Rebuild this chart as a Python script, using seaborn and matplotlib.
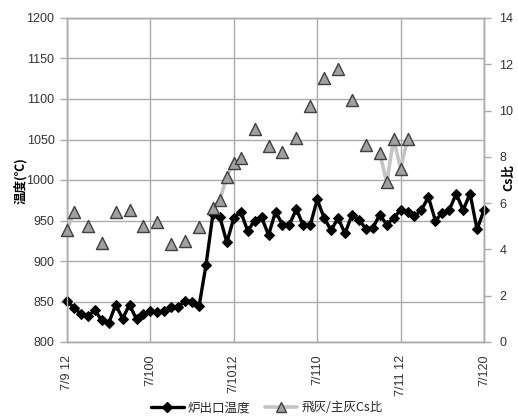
import numpy as np
import pandas as pd
import matplotlib
matplotlib.use("Agg")
import matplotlib.pyplot as plt
from matplotlib.lines import Line2D
import seaborn as sns

# Hourly readings from 7/9 12:00 to 7/12 0:00
hours = list(range(61))
furnace_temp = [851, 842, 835, 832, 839, 827, 823, 846, 829, 846,
                828, 835, 838, 837, 838, 843, 843, 851, 850, 844,
                895, 958, 954, 923, 953, 961, 937, 950, 954, 932,
                961, 945, 945, 964, 944, 944, 976, 953, 938, 953,
                934, 957, 951, 940, 941, 957, 945, 953, 963, 961,
                955, 963, 979, 950, 959, 963, 983, 963, 983, 939,
                963]
# Fly ash / bottom ash Cs ratio, sampled at irregular hours
cs_hours = [0, 1, 3, 5, 7, 9, 11, 13, 15, 17, 19, 21, 22, 23, 24, 25,
            27, 29, 31, 33, 35, 37, 39, 41, 43, 45, 46, 47, 48, 49]
cs_ratio = [4.85, 5.60, 5.03, 4.28, 5.63, 5.72, 5.03, 5.20, 4.23, 4.38,
            4.96, 5.80, 6.15, 7.15, 7.75, 7.93, 9.19, 8.47, 8.20, 8.80,
            10.20, 11.39, 11.79, 10.45, 8.52, 8.15, 6.90, 8.76, 7.49, 8.76]
tick_hours = [0, 12, 24, 36, 48, 60]
tick_labels = ["7/9 12", "7/100", "7/1012", "7/110", "7/11 12", "7/120"]
temp_ticks = [800, 850, 900, 950, 1000, 1050, 1100, 1150, 1200]
cs_ticks = [0, 2, 4, 6, 8, 10, 12, 14]

sns.set_style("white")
plt.rcParams["font.family"] = ["Noto Sans CJK JP", "DejaVu Sans"]

temp_df = pd.DataFrame({"hour": hours, "temp": furnace_temp})
cs_df = pd.DataFrame({"hour": cs_hours, "cs": cs_ratio})
# consecutive hourly samples are joined, gaps break the line
cs_df["seg"] = (cs_df["hour"].diff() != 1).cumsum()

fig = plt.figure(figsize=(5.18, 4.17), dpi=100)
ax = fig.add_axes([67 / 518, 75 / 417, 417 / 518, 324 / 417])
ax2 = ax.twinx()

grid_c = "#ABABAB"
txt_c = "#333333"

sns.lineplot(data=temp_df, x="hour", y="temp", ax=ax, color="black",
             lw=2.4, marker="D", markersize=5, markeredgecolor="black",
             clip_on=False, zorder=3)

sns.lineplot(data=cs_df, x="hour", y="cs", units="seg", estimator=None,
             ax=ax2, color="#C4C4C4", lw=2.6, zorder=2)
sns.scatterplot(data=cs_df, x="hour", y="cs", ax=ax2, marker="^", s=75,
                color="#A0A0A0", edgecolor="#404040", linewidth=1.0,
                zorder=3, clip_on=False)

ax.set_xlim(0, 60)
ax.set_ylim(800, 1200)
ax2.set_ylim(0, 14)
ax.set_yticks(temp_ticks)
ax2.set_yticks(cs_ticks)
ax.set_xticks(tick_hours)
ax.set_xticklabels(tick_labels, rotation=90, fontsize=9, color=txt_c,
                   family=["Liberation Sans", "DejaVu Sans"])
ax.set_yticklabels([str(v) for v in temp_ticks], fontsize=9, color=txt_c,
                   family=["Liberation Sans", "DejaVu Sans"])
ax2.set_yticklabels([str(v) for v in cs_ticks], fontsize=9, color=txt_c,
                    family=["Liberation Sans", "DejaVu Sans"])

ax.grid(True, color=grid_c, lw=1)
ax.set_axisbelow(True)
for a in (ax, ax2):
    for side, sp in a.spines.items():
        sp.set_color(grid_c)
        sp.set_linewidth(1)
    a.set_xlabel("")
    a.set_ylabel("")
ax.tick_params(axis="both", direction="out", length=5, width=1,
               color=grid_c, pad=4)
ax2.tick_params(axis="y", direction="out", length=5, width=1,
                color=grid_c, pad=6)

fig.text(20 / 518, 0.568, "温度(℃)", rotation=90, ha="center", va="center",
         fontsize=9, fontweight="bold", color="black")
fig.text(509 / 518, 0.575, "Cs比", rotation=90, ha="center", va="center",
         fontsize=9, fontweight="bold", color="black")

handles = [
    Line2D([], [], color="black", lw=2.4, marker="D", markersize=5),
    Line2D([], [], color="#C4C4C4", lw=2.6, marker="^", markersize=7,
           markerfacecolor="#A0A0A0", markeredgecolor="#404040"),
]
fig.legend(handles, ["炉出口温度", "飛灰/主灰Cs比"], loc="center",
           bbox_to_anchor=(0.515, 0.022), ncol=2, frameon=False,
           fontsize=9, handlelength=2.6, columnspacing=1.2,
           handletextpad=0.3)

fig.savefig("out.png", dpi=100)
